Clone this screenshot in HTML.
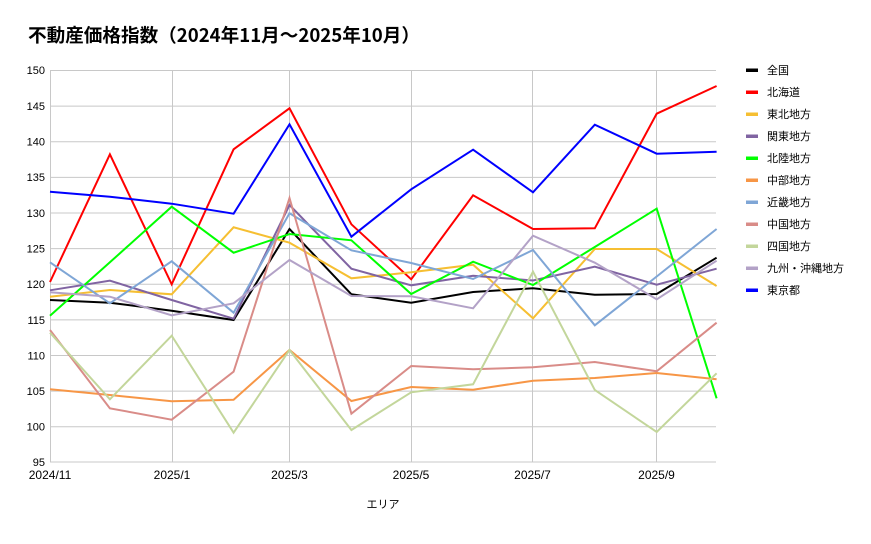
<!DOCTYPE html>
<html><head><meta charset="utf-8"><style>
html,body{margin:0;padding:0;background:#fff;}
body{width:871px;height:539px;overflow:hidden;}
svg text{font-family:"Liberation Sans","Noto Sans CJK JP",sans-serif;}
</style></head><body>
<svg width="871" height="539" viewBox="0 0 871 539" xmlns="http://www.w3.org/2000/svg">
<rect width="871" height="539" fill="#fff"/>
<text x="28" y="42" font-size="18.6" font-weight="bold" fill="#000" style="font-family:'Noto Sans CJK JP','Liberation Sans',sans-serif">不動産価格指数（2024年11月～2025年10月）</text>
<g stroke="#c8c8c8" stroke-width="1" fill="none">
<line x1="50" y1="70.5" x2="716" y2="70.5"/>
<line x1="50" y1="106.1" x2="716" y2="106.1"/>
<line x1="50" y1="141.8" x2="716" y2="141.8"/>
<line x1="50" y1="177.4" x2="716" y2="177.4"/>
<line x1="50" y1="213" x2="716" y2="213"/>
<line x1="50" y1="248.6" x2="716" y2="248.6"/>
<line x1="50" y1="284.3" x2="716" y2="284.3"/>
<line x1="50" y1="319.9" x2="716" y2="319.9"/>
<line x1="50" y1="355.5" x2="716" y2="355.5"/>
<line x1="50" y1="391.1" x2="716" y2="391.1"/>
<line x1="50" y1="426.7" x2="716" y2="426.7"/>
<line x1="50" y1="462" x2="716" y2="462"/>
<line x1="50.5" y1="70" x2="50.5" y2="462"/>
<line x1="172.5" y1="70" x2="172.5" y2="462"/>
<line x1="289.5" y1="70" x2="289.5" y2="462"/>
<line x1="411.5" y1="70" x2="411.5" y2="462"/>
<line x1="532.5" y1="70" x2="532.5" y2="462"/>
<line x1="656.5" y1="70" x2="656.5" y2="462"/>
</g>
<g font-size="11" fill="#000" text-anchor="end">
<text x="45" y="74">150</text>
<text x="45" y="110">145</text>
<text x="45" y="145.5">140</text>
<text x="45" y="181">135</text>
<text x="45" y="217">130</text>
<text x="45" y="252.5">125</text>
<text x="45" y="288">120</text>
<text x="45" y="324">115</text>
<text x="45" y="359.5">110</text>
<text x="45" y="395">105</text>
<text x="45" y="430.5">100</text>
<text x="45" y="466">95</text>
</g>
<g font-size="12" fill="#000" text-anchor="middle">
<text x="50" y="479">2024/11</text>
<text x="172" y="479">2025/1</text>
<text x="289.5" y="479">2025/3</text>
<text x="411" y="479">2025/5</text>
<text x="532.5" y="479">2025/7</text>
<text x="656.5" y="479">2025/9</text>
</g>
<text x="383" y="508" font-size="11" text-anchor="middle" fill="#000">エリア</text>
<g fill="none" stroke-width="2" stroke-linejoin="miter">
<polyline stroke="#000000" points="50,300 109.9,302.7 171.7,310.7 233.6,320 289.5,229 351.4,294.3 411.2,302.7 473.1,292 533,288.3 594.8,294.7 656.7,294 716.6,257.7"/>
<polyline stroke="#ff0000" points="50,282 109.9,154.3 171.7,284.3 233.6,149.3 289.5,108.3 351.4,224.3 411.2,279.3 473.1,195.3 533,229 594.8,228.3 656.7,113.7 716.6,86"/>
<polyline stroke="#f6bf32" points="50,296.7 109.9,290 171.7,294.3 233.6,227.3 289.5,242.7 351.4,278.3 411.2,272.3 473.1,264.7 533,318.3 594.8,249 656.7,249 716.6,286"/>
<polyline stroke="#8064a2" points="50,290.3 109.9,280.7 171.7,300 233.6,318.7 289.5,205 351.4,268.7 411.2,285.3 473.1,275.7 533,280.5 594.8,266.7 656.7,284.7 716.6,268.7"/>
<polyline stroke="#00ff00" points="50,315.7 109.9,262.3 171.7,206.7 233.6,252.7 289.5,234 351.4,240.3 411.2,294 473.1,261.7 533,285 594.8,247 656.7,208.7 716.6,398.3"/>
<polyline stroke="#f79646" points="50,389.3 109.9,395 171.7,401.3 233.6,399.7 289.5,350 351.4,401 411.2,387 473.1,389.7 533,380.7 594.8,378 656.7,373 716.6,379.3"/>
<polyline stroke="#7fa6d6" points="50,262.3 109.9,303.3 171.7,261.3 233.6,312.7 289.5,213.3 351.4,250.3 411.2,263 473.1,279 533,250 594.8,325.3 656.7,276.5 716.6,229"/>
<polyline stroke="#d98c88" points="50,330 109.9,408.3 171.7,419.7 233.6,371.7 289.5,198 351.4,413.7 411.2,366 473.1,369.3 533,367.3 594.8,362 656.7,371.3 716.6,322.7"/>
<polyline stroke="#c3d69b" points="50,332.7 109.9,399.3 171.7,335.7 233.6,432.7 289.5,350 351.4,430 411.2,392.3 473.1,384.3 533,271.7 594.8,390 656.7,432 716.6,373.3"/>
<polyline stroke="#b3a2c7" points="50,292.3 109.9,296.7 171.7,315.3 233.6,303.3 289.5,260 351.4,296 411.2,296.3 473.1,308.3 533,235.7 594.8,262.7 656.7,299.3 716.6,260.7"/>
<polyline stroke="#0000ff" points="50,191.7 109.9,196.7 171.7,203.7 233.6,213.7 289.5,124.3 351.4,236.7 411.2,189.3 473.1,149.7 533,192.3 594.8,124.7 656.7,153.7 716.6,151.7"/>
</g>
<g>
<rect x="746" y="68.5" width="12" height="3.5" fill="#000000"/>
<rect x="746" y="90.5" width="12" height="3.5" fill="#ff0000"/>
<rect x="746" y="112.5" width="12" height="3.5" fill="#f6bf32"/>
<rect x="746" y="134.5" width="12" height="3.5" fill="#8064a2"/>
<rect x="746" y="156.5" width="12" height="3.5" fill="#00ff00"/>
<rect x="746" y="178.5" width="12" height="3.5" fill="#f79646"/>
<rect x="746" y="200.5" width="12" height="3.5" fill="#7fa6d6"/>
<rect x="746" y="222.5" width="12" height="3.5" fill="#d98c88"/>
<rect x="746" y="244.5" width="12" height="3.5" fill="#c3d69b"/>
<rect x="746" y="266.5" width="12" height="3.5" fill="#b3a2c7"/>
<rect x="746" y="288.5" width="12" height="3.5" fill="#0000ff"/>
</g>
<g font-size="11" fill="#000">
<text x="767" y="74">全国</text>
<text x="767" y="96">北海道</text>
<text x="767" y="118">東北地方</text>
<text x="767" y="140">関東地方</text>
<text x="767" y="162">北陸地方</text>
<text x="767" y="184">中部地方</text>
<text x="767" y="206">近畿地方</text>
<text x="767" y="228">中国地方</text>
<text x="767" y="250">四国地方</text>
<text x="767" y="272">九州・沖縄地方</text>
<text x="767" y="294">東京都</text>
</g>
</svg>
</body></html>
